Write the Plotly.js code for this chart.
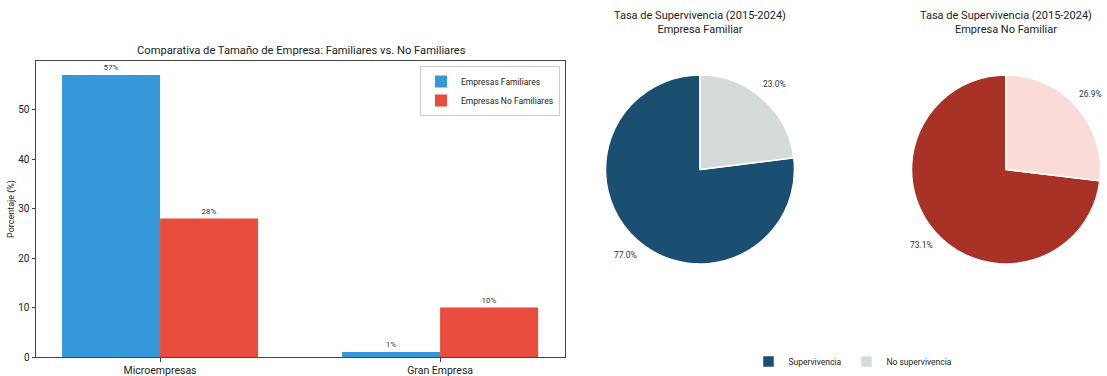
<!DOCTYPE html>
<html><head><meta charset="utf-8">
<script src="https://cdn.plot.ly/plotly-3.0.1.min.js"></script>
<style>html,body{margin:0;padding:0;background:#fff}</style>
</head><body>
<div id="chart" style="width:1107px;height:376px"></div>
<script>
const categories = ["Microempresas", "Gran Empresa"];
const familiares = [57, 1];
const noFamiliares = [28, 10];
const pieLabels = ["Supervivencia", "No supervivencia"];
const pieFamiliar = [77.0, 23.0];
const pieNoFamiliar = [73.1, 26.9];

const W = 1107, H = 376;
const FONT = "Roboto, 'Open Sans', sans-serif";

const traces = [
  {type:'bar', x:categories, y:familiares, name:'Empresas Familiares',
   marker:{color:'#3498db'}, text:familiares.map(v=>v+'%'), textposition:'outside',
   textfont:{size:8, color:'#333'}, cliponaxis:false, xaxis:'x', yaxis:'y', legend:'legend'},
  {type:'bar', x:categories, y:noFamiliares, name:'Empresas No Familiares',
   marker:{color:'#e74c3c'}, text:noFamiliares.map(v=>v+'%'), textposition:'outside',
   textfont:{size:8, color:'#333'}, cliponaxis:false, xaxis:'x', yaxis:'y', legend:'legend'}
];

const pies = [
  {vals:pieFamiliar, colors:['#1b4f72','#d5dbdb'], cx:700, cy:169.5, r:94.5, title:'Tasa de Supervivencia (2015-2024)<br>Empresa Familiar'},
  {vals:pieNoFamiliar, colors:['#a93226','#fadbd8'], cx:1006, cy:169.5, r:94.5, title:'Tasa de Supervivencia (2015-2024)<br>Empresa No Familiar'}
];
const annotations = [];
pies.forEach((p,i)=>{
  const tot = p.vals.reduce((a,b)=>a+b,0);
  // first slice runs counterclockwise from 12 o'clock: draw clockwise starting where it ends
  const rot = (tot - p.vals[0]) / tot * 360;
  traces.push({type:'pie', labels:pieLabels, values:p.vals, sort:false, direction:'clockwise', rotation:rot,
    marker:{colors:p.colors, line:{color:'#fff', width:1.5}}, textinfo:'none', hoverinfo:'label+percent',
    domain:{x:[(p.cx-p.r)/W,(p.cx+p.r)/W], y:[(H-p.cy-p.r)/H,(H-p.cy+p.r)/H]}, legend:'legend2', showlegend:i===0});
  let cum = 0;
  p.vals.forEach(v=>{
    const a = (90 + (cum + v/2)/tot*360) * Math.PI/180;
    cum += v;
    const px = p.cx + 1.2*p.r*Math.cos(a), py = p.cy - 1.2*p.r*Math.sin(a);
    annotations.push({xref:'paper', yref:'paper', x:px/W, y:1-py/H, xanchor:'center', yanchor:'middle',
      text:(v/tot*100).toFixed(1)+'%', showarrow:false, font:{size:8.5, color:'#333', family:FONT}});
  });
  annotations.push({xref:'paper', yref:'paper', x:p.cx/W, y:1-22/H, xanchor:'center', yanchor:'middle', text:p.title,
    showarrow:false, font:{size:11, color:'#222', family:FONT}});
});
annotations.push({xref:'paper', yref:'paper', x:301/W, y:1-51/H, xanchor:'center', yanchor:'middle',
  text:'Comparativa de Tamaño de Empresa: Familiares vs. No Familiares', showarrow:false,
  font:{size:11.2, color:'#222', family:FONT}});

const layout = {
  width:W, height:H, margin:{l:0,r:0,t:0,b:0, autoexpand:false}, paper_bgcolor:'#fff', plot_bgcolor:'#fff',
  font:{family:FONT, color:'#222'},
  barmode:'group', bargap:0.3, bargroupgap:0,
  xaxis:{domain:[36/W,565/W], range:[-0.443,1.446], showline:true, mirror:true, linecolor:'#444', linewidth:1,
    ticks:'outside', ticklen:3.5, tickcolor:'#444', tickfont:{size:10.5}, showgrid:false, zeroline:false, fixedrange:true, automargin:false},
  yaxis:{domain:[(H-357)/H,(H-61)/H], range:[0,59.85], showline:true, mirror:true, linecolor:'#444', linewidth:1,
    ticks:'outside', ticklen:3.5, tickcolor:'#444', tickfont:{size:10}, dtick:10, showgrid:false, zeroline:false, automargin:false,
    title:{text:'Porcentaje (%)', font:{size:9}, standoff:2}},
  legend:{x:560/W, xanchor:'right', y:1-66/H, yanchor:'top', bordercolor:'#ccc', borderwidth:1, bgcolor:'rgba(255,255,255,0.8)',
    font:{size:8.5}, tracegroupgap:0, traceorder:'normal'},
  legend2:{orientation:'h', x:853/W, xanchor:'center', y:0, yanchor:'bottom', font:{size:8.5}, bgcolor:'rgba(0,0,0,0)'},
  annotations:annotations, showlegend:true
};
Plotly.newPlot('chart', traces, layout, {displayModeBar:false, staticPlot:true});
</script>
</body></html>
